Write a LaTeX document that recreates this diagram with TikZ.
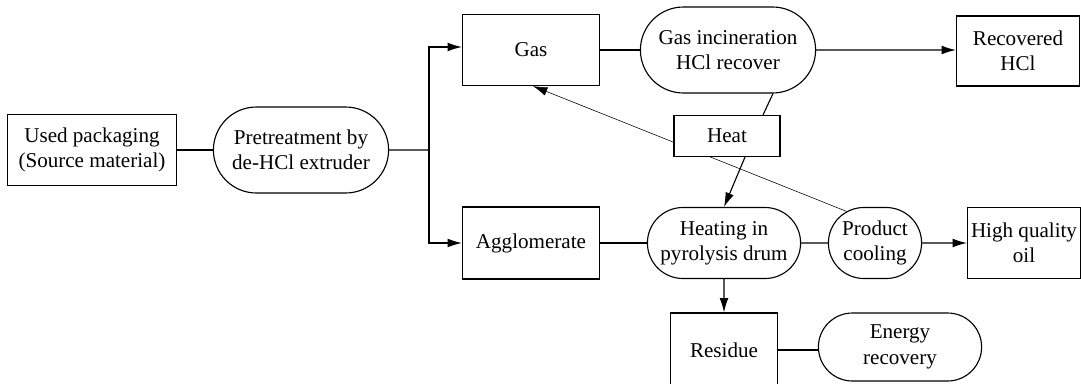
\documentclass[tikz,border=0pt]{standalone}
\usepackage{fontspec}
\setmainfont{Liberation Serif}
\usepackage{tikz}
\usetikzlibrary{backgrounds}
\usetikzlibrary{shapes.misc}
\usetikzlibrary{arrows.meta}

\tikzset{
  box/.style={draw,rectangle,fill=white,align=center,inner sep=1pt},
  stad/.style={draw,rounded rectangle,fill=white,align=center,inner sep=1pt},
  >={Latex[length=3.6mm,width=2.2mm]}
}

\begin{document}
\begin{tikzpicture}[line width=0.8pt,font=\fontsize{15}{18}\selectfont]

\useasboundingbox (0,0) rectangle (27.025,-9.575);

\node[box,minimum width=4.225cm,minimum height=1.775cm] (used) at (2.3,-3.75) {Used packaging\\(Source material)};
\node[stad,minimum width=4.45cm,minimum height=2.15cm] (pre) at (7.525,-3.75) {Pretreatment by\\de-HCl extruder};

\node[box,minimum width=3.425cm,minimum height=1.775cm] (gas) at (13.275,-1.25) {Gas};
\node[stad,minimum width=4.45cm,minimum height=2.15cm] (inc) at (18.2,-1.25) {Gas incineration\\HCl recover};
\node[box,minimum width=3.075cm,minimum height=1.75cm] (rec) at (25.45,-1.275) {Recovered\\HCl};

\node[box,minimum width=3.425cm,minimum height=1.8cm] (agg) at (13.275,-6.075) {Agglomerate};
\node[stad,minimum width=3.9cm,minimum height=1.775cm] (drum) at (18.1,-6.075) {Heating in\\pyrolysis drum};
\node[stad,minimum width=2.4cm,minimum height=1.775cm] (cool) at (21.875,-6.075) {Product\\cooling};
\node[box,minimum width=2.825cm,minimum height=1.775cm] (oil) at (25.6,-6.075) {High quality\\oil};

\node[box,minimum width=2.675cm,minimum height=1.85cm] (res) at (18.1,-8.75) {Residue};
\node[stad,minimum width=4.15cm,minimum height=1.7cm] (energy) at (22.5,-8.675) {Energy\\recovery};

\coordinate (split) at (10.725,-3.75);

% main line
\draw (used) -- (pre);
\draw (pre) -- (split);
\draw[->] (split) |- ([yshift=0.075cm]gas.west);
\draw[->] (split) |- (agg.west);
\draw (gas) -- (inc);
\draw[->] (inc) -- (inc -| rec.west);
\draw (agg) -- (drum);
\draw (drum) -- (cool);
\draw[->] (cool) -- (oil);
\draw[->] (drum) -- (res);
\draw (res.east) -- (res.east -| energy.west);

% heat
\begin{scope}[on background layer]
\draw[->] (cool.132) -- ([xshift=0.05cm]gas.south);
\end{scope}
\node[box,minimum width=2.65cm,minimum height=1.025cm] (heat) at (18.175,-3.4) {Heat};
\draw ([xshift=1.125cm]inc.south) -- ([xshift=0.9cm]heat.north);
\draw[->] ([xshift=0.45cm]heat.south) -- (drum.north);

\end{tikzpicture}
\end{document}
